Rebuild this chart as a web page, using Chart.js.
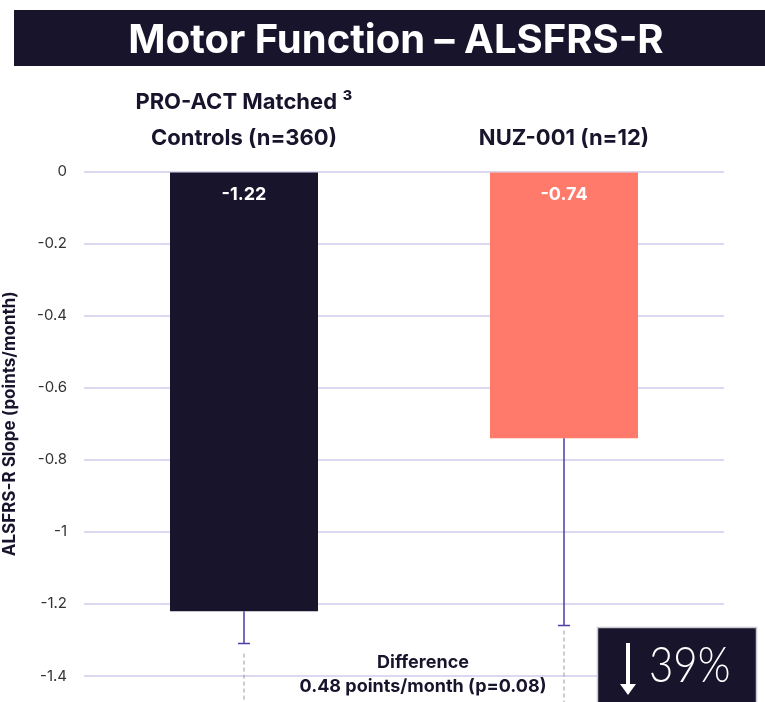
<!DOCTYPE html>
<html>
<head>
<meta charset="utf-8">
<script src="https://cdn.jsdelivr.net/npm/chart.js@4.4.0/dist/chart.umd.min.js"></script>
<style>
html,body{margin:0;padding:0;background:#fff;}
#wrap{width:765px;height:702px;position:relative;}
</style>
</head>
<body>
<div id="wrap"><canvas id="c" width="765" height="702"></canvas></div>
<script>
const categories = [["PRO-ACT Matched \u00B3", "Controls (n=360)"], ["", "NUZ-001 (n=12)"]];
const slopeValues = [-1.22, -0.74];
const errorLow = [-1.31, -1.26];
const valueLabels = ["-1.22", "-0.74"];
const yTicks = [0, -0.2, -0.4, -0.6, -0.8, -1, -1.2, -1.4];
const titleText = "Motor Function \u2013 ALSFRS-R";
const yTitle = "ALSFRS-R Slope (points/month)";
const diffLines = ["Difference", "0.48 points/month (p=0.08)"];
const reductionText = "39%";

const NAVY = "#17142c";
const SALMON = "#ff7a6a";
const FONT = "Inter, 'Noto Sans', sans-serif";

const decor = {
  id: 'decor',
  beforeDraw(chart) {
    const ctx = chart.ctx;
    ctx.save();
    ctx.fillStyle = NAVY;
    ctx.fillRect(14, 10, 765 - 14, 56);
    ctx.fillStyle = '#fff';
    ctx.font = "bold 40px " + FONT;
    ctx.textAlign = 'center';
    ctx.textBaseline = 'middle';
    ctx.fillText(titleText, 396, 41);
    ctx.restore();
  },
  afterDatasetsDraw(chart) {
    const ctx = chart.ctx;
    const y = chart.scales.y;
    const meta = chart.getDatasetMeta(0);
    ctx.save();
    // error bars
    ctx.strokeStyle = '#4b3fa3';
    ctx.lineWidth = 1.5;
    meta.data.forEach((bar, i) => {
      const px = bar.x;
      const y0 = y.getPixelForValue(slopeValues[i]);
      const y1 = y.getPixelForValue(errorLow[i]);
      ctx.beginPath();
      ctx.moveTo(px, y0); ctx.lineTo(px, y1);
      ctx.moveTo(px - 6, y1); ctx.lineTo(px + 6, y1);
      ctx.stroke();
    });
    // value labels
    ctx.fillStyle = '#fff';
    ctx.font = "bold 18px " + FONT;
    ctx.textAlign = 'center';
    ctx.textBaseline = 'middle';
    meta.data.forEach((bar, i) => {
      ctx.fillText(valueLabels[i], bar.x, y.getPixelForValue(0) + 23);
    });
    // dashed bracket lines
    ctx.strokeStyle = '#9a9a9a';
    ctx.lineWidth = 1;
    ctx.setLineDash([4, 3]);
    meta.data.forEach((bar, i) => {
      const y1 = y.getPixelForValue(errorLow[i]);
      ctx.beginPath();
      ctx.moveTo(bar.x, y1 + (i === 0 ? 10 : 5));
      ctx.lineTo(bar.x, 702);
      ctx.stroke();
    });
    ctx.setLineDash([]);
    // difference text
    ctx.fillStyle = NAVY;
    ctx.font = "bold 18px " + FONT;
    ctx.fillText(diffLines[0], 423, 663);
    ctx.fillText(diffLines[1], 423, 687);
    // reduction box
    ctx.fillStyle = NAVY;
    ctx.fillRect(597, 627, 160, 80);
    ctx.strokeStyle = '#c8c8d0';
    ctx.lineWidth = 1.5;
    ctx.strokeRect(597.5, 627.5, 159, 80);
    // arrow
    ctx.strokeStyle = '#fff';
    ctx.fillStyle = '#fff';
    ctx.lineWidth = 4;
    ctx.beginPath();
    ctx.moveTo(628, 643); ctx.lineTo(628, 686);
    ctx.stroke();
    ctx.beginPath();
    ctx.moveTo(620, 684); ctx.lineTo(636, 684); ctx.lineTo(628, 695); ctx.closePath();
    ctx.fill();
    ctx.save();
    ctx.translate(649, 666);
    ctx.scale(0.84, 1);
    ctx.font = "300 50px Lato, " + FONT;
    ctx.textAlign = 'left';
    ctx.fillText(reductionText, 0, 0);
    ctx.restore();
    ctx.restore();
  }
};

new Chart(document.getElementById('c'), {
  type: 'bar',
  data: {
    labels: categories,
    datasets: [{
      data: slopeValues,
      backgroundColor: [NAVY, SALMON],
      borderWidth: 0,
      barPercentage: 0.925,
      categoryPercentage: 0.5
    }]
  },
  options: {
    responsive: false,
    animation: false,
    devicePixelRatio: 1,
    layout: { padding: { top: 66, right: 41, bottom: 25, left: 0 } },
    plugins: { legend: { display: false }, tooltip: { enabled: false } },
    scales: {
      x: {
        position: 'top',
        grid: { display: false, drawTicks: false },
        border: { display: false },
        ticks: {
          color: NAVY,
          font: { family: FONT, size: 22, weight: 'bold', lineHeight: '36px' },
          padding: 15.5,
          maxRotation: 0
        },
        afterFit(scale) { scale.height = 105.5; }
      },
      y: {
        min: -1.4,
        max: 0,
        afterBuildTicks(scale) { scale.ticks = yTicks.map(v => ({ value: v })); },
        grid: { color: '#dcd8ef', lineWidth: 2, drawTicks: false },
        border: { display: false },
        ticks: {
          color: '#333',
          font: { family: FONT, size: 15 },
          padding: 17,
          callback: v => String(v)
        },
        title: {
          display: true,
          text: yTitle,
          color: NAVY,
          font: { family: FONT, size: 17, weight: 'bold' },
          padding: { top: 0, bottom: 0 }
        },
        afterFit(scale) { scale.width = 84; }
      }
    }
  },
  plugins: [decor]
});
</script>
</body>
</html>
